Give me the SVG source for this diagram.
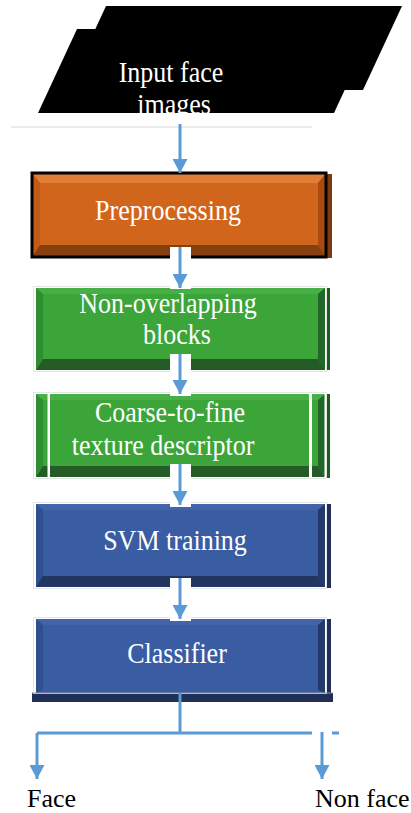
<svg xmlns="http://www.w3.org/2000/svg" width="411" height="813" viewBox="0 0 411 813">
  <defs>
    <marker id="head" markerUnits="userSpaceOnUse" markerWidth="15" markerHeight="15" refX="14" refY="7.5" orient="auto">
      <path d="M0,0 L14,7.5 L0,15 Z" fill="#5B9BD5"/>
    </marker>
  </defs>
  <style>
    .lbl { font-family: "Liberation Serif", "Times New Roman", serif; font-size: 26px; fill: #ffffff; text-anchor: middle; }
    .out { font-family: "Liberation Serif", "Times New Roman", serif; font-size: 26px; fill: #000000; }
    .wire { stroke: #5B9BD5; stroke-width: 3; fill: none; }
    .gap { fill: #ffffff; }
    .frame { fill: none; stroke: #e2e6e2; stroke-width: 1; }
    .orange .base { fill: #D2651C; } .orange .top { fill: #E07E36; } .orange .left { fill: #C45A17; } .orange .right { fill: #A84B12; } .orange .bottom { fill: #86400F; }
    .green .base { fill: #3BA53A; } .green .top { fill: #46AF45; } .green .left { fill: #2F8F30; } .green .right { fill: #22672A; } .green .bottom { fill: #255B26; }
    .blue .base { fill: #3A5CA3; } .blue .top { fill: #4364AA; } .blue .left { fill: #2F4F8F; } .blue .right { fill: #24396A; } .blue .bottom { fill: #22365F; }
  </style>

  <rect width="411" height="813" fill="#ffffff"/>

  <!-- input: stacked parallelograms -->
  <g id="input">
    <polygon points="106,6 402,6 363,90 67,90" fill="#000000"/>
    <polygon points="77,29 373,29 334,113 38,113" fill="#000000"/>
    <text class="lbl" transform="translate(171,82) scale(1,1.1)">Input face</text>
    <text class="lbl" transform="translate(174,114) scale(1,1.1)">images</text>
  </g>
  <line x1="11" y1="127" x2="312" y2="127" stroke="#d8d8d8" stroke-width="1.2"/>

  <!-- preprocessing -->
  <g id="preprocessing" class="orange">
    <rect x="326" y="174" width="6" height="84" fill="#7E3A0E"/>
    <rect class="base" x="32" y="173" width="294" height="84"/>
    <polygon class="top" points="32,173 326,173 318,183 40,183"/>
    <polygon class="left" points="32,173 40,183 40,245 32,257"/>
    <polygon class="right" points="326,173 326,257 318,245 318,183"/>
    <polygon class="bottom" points="32,257 40,245 318,245 326,257"/>
    <rect x="32" y="173" width="294" height="84" fill="none" stroke="#000000" stroke-width="3"/>
    <text class="lbl" transform="translate(168,220) scale(1,1.1)">Preprocessing</text>
  </g>

  <!-- non-overlapping blocks -->
  <g id="blocks" class="green">
    <rect x="326" y="288" width="4" height="82" fill="#1F5A22"/>
    <rect class="base" x="36" y="288" width="289" height="82"/>
    <polygon class="top" points="36,288 325,288 318,294 43,294"/>
    <polygon class="left" points="36,288 43,294 43,359 36,370"/>
    <polygon class="right" points="325,288 325,370 318,359 318,294"/>
    <polygon class="bottom" points="36,370 43,359 318,359 325,370"/>
    <rect class="frame" x="33.5" y="286.5" width="293" height="85"/>
    <text class="lbl" transform="translate(168,313) scale(1,1.1)">Non-overlapping</text>
    <text class="lbl" transform="translate(177,344) scale(1,1.1)">blocks</text>
  </g>

  <!-- coarse-to-fine texture descriptor -->
  <g id="descriptor" class="green">
    <rect x="326" y="394" width="4" height="84" fill="#1F5A22"/>
    <rect class="base" x="36" y="394" width="289" height="83"/>
    <polygon class="top" points="36,394 325,394 318,400 43,400"/>
    <polygon class="left" points="36,394 43,400 43,466 36,477"/>
    <polygon class="right" points="325,394 325,477 318,466 318,400"/>
    <polygon class="bottom" points="36,477 43,466 318,466 325,477"/>
    <rect x="47.5" y="394" width="2.5" height="83" fill="#ffffff"/>
    <rect x="309" y="394" width="3" height="83" fill="#ffffff"/>
    <rect x="324.5" y="394" width="1.5" height="83" fill="#ffffff"/>
    <rect class="frame" x="33.5" y="392.5" width="293" height="86"/>
    <text class="lbl" transform="translate(170,422) scale(1,1.1)">Coarse-to-fine</text>
    <text class="lbl" transform="translate(163,455) scale(1,1.1)">texture descriptor</text>
  </g>

  <!-- svm training -->
  <g id="svm" class="blue">
    <rect x="327" y="504" width="4" height="84" fill="#1F2F58"/>
    <rect class="base" x="36" y="504" width="289" height="83"/>
    <polygon class="top" points="36,504 325,504 318,510 43,510"/>
    <polygon class="left" points="36,504 43,510 43,576 36,587"/>
    <polygon class="right" points="325,504 325,587 318,576 318,510"/>
    <polygon class="bottom" points="36,587 43,576 318,576 325,587"/>
    <rect class="frame" x="33.5" y="502.5" width="293" height="86"/>
    <text class="lbl" transform="translate(175,550) scale(1,1.1)">SVM training</text>
  </g>

  <!-- classifier -->
  <g id="classifier" class="blue">
    <rect x="327" y="619" width="4" height="74" fill="#1F2F58"/>
    <rect class="base" x="36" y="619" width="289" height="74"/>
    <polygon class="top" points="36,619 325,619 318,625 43,625"/>
    <polygon class="left" points="36,619 43,625 43,690 36,693"/>
    <polygon class="right" points="325,619 325,693 318,690 318,625"/>
    <rect x="32" y="693" width="301" height="9" fill="#1F2F55"/>
    <rect class="frame" x="33.5" y="617.5" width="293" height="76"/>
    <line x1="32" y1="693" x2="333" y2="693" stroke="#8a8f99" stroke-width="1.2"/>
    <text class="lbl" transform="translate(177,663) scale(1,1.1)">Classifier</text>
  </g>

  <!-- connectors -->
  <g id="connectors">
    <line class="wire" x1="180" y1="124" x2="180" y2="173" marker-end="url(#head)"/>
    <rect class="gap" x="170" y="247" width="21" height="42"/>
    <line class="wire" x1="180" y1="247" x2="180" y2="288" marker-end="url(#head)"/>
    <rect class="gap" x="170" y="354" width="21" height="42"/>
    <line class="wire" x1="180" y1="354" x2="180" y2="394" marker-end="url(#head)"/>
    <rect class="gap" x="170" y="464" width="21" height="43"/>
    <line class="wire" x1="180" y1="464" x2="180" y2="505" marker-end="url(#head)"/>
    <rect class="gap" x="170" y="578" width="21" height="43"/>
    <line class="wire" x1="180" y1="578" x2="180" y2="619" marker-end="url(#head)"/>
    <line class="wire" x1="180" y1="693" x2="180" y2="734"/>
    <line class="wire" x1="37" y1="733" x2="312" y2="733"/>
    <line class="wire" x1="332" y1="733" x2="339" y2="733"/>
    <line class="wire" x1="37" y1="733" x2="37" y2="779" marker-end="url(#head)"/>
    <line class="wire" x1="322" y1="732" x2="322" y2="779" marker-end="url(#head)"/>
  </g>

  <!-- outcomes -->
  <g id="face"><text class="out" x="27" y="807">Face</text></g>
  <g id="nonface"><text class="out" x="315" y="807">Non face</text></g>
</svg>
